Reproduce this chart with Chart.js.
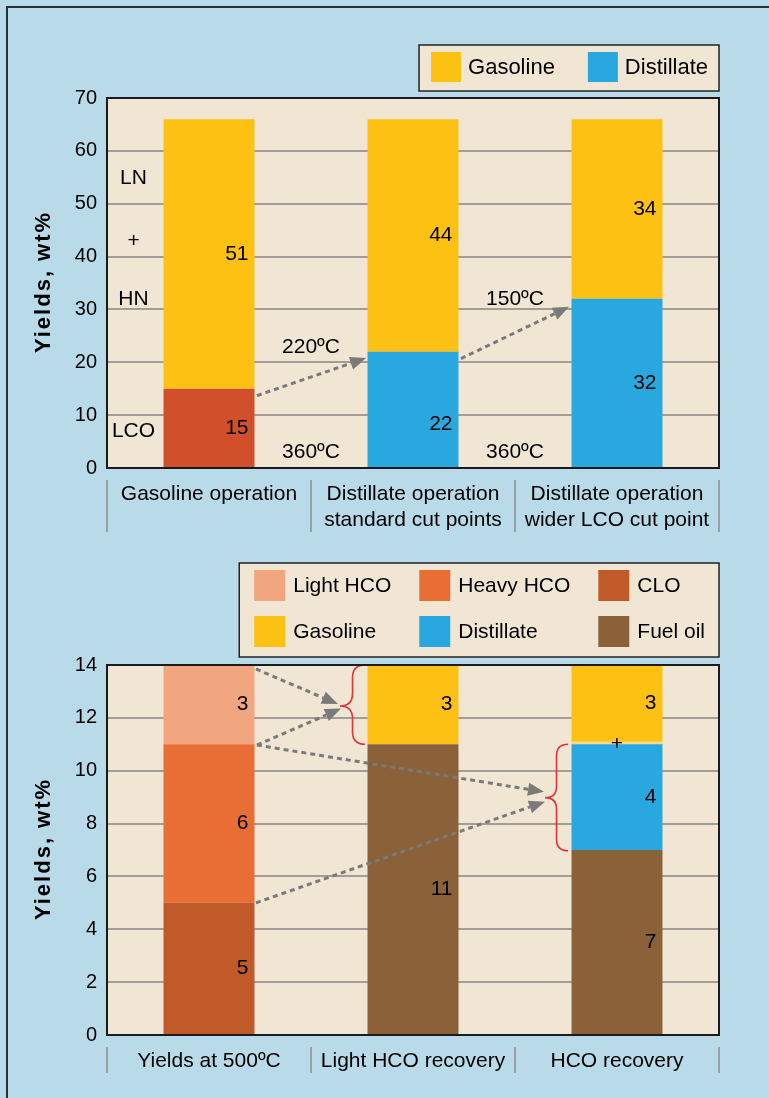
<!DOCTYPE html>
<html>
<head>
<meta charset="utf-8">
<title>FCC yields</title>
<script src="https://cdn.jsdelivr.net/npm/chart.js@4.4.1/dist/chart.umd.min.js"></script>
<style>
  html, body { margin: 0; padding: 0; background: #b9dbe9; }
  body { width: 769px; height: 1098px; position: relative; overflow: hidden; }
  #frame { position: absolute; left: 6px; top: 6px; right: 0; bottom: 0;
           border-left: 2px solid #25323a; border-top: 2px solid #25323a; }
  canvas { position: absolute; left: 0; }
  #cutChart { top: 0; }
  #hcoChart { top: 545px; }
</style>
</head>
<body>
<div id="frame"></div>
<canvas id="cutChart" width="769" height="545"></canvas>
<canvas id="hcoChart" width="769" height="553"></canvas>
<script>
// ---- Cut-point strategies (upper chart) ----
const cutCategories = [
  ['Gasoline operation'],
  ['Distillate operation', 'standard cut points'],
  ['Distillate operation', 'wider LCO cut point']
];
const cutLCO        = [15, 0, 0];
const cutDistillate = [0, 22, 32];
const cutGasoline   = [51, 44, 34];
const cutYTicks     = [0, 10, 20, 30, 40, 50, 60, 70];

// ---- HCO recovery (lower chart) ----
const hcoCategories = ['Yields at 500ºC', 'Light HCO recovery', 'HCO recovery'];
const hcoCLO        = [5, 0, 0];
const hcoHeavyHCO   = [6, 0, 0];
const hcoLightHCO   = [3, 0, 0];
const hcoFuelOil    = [0, 11, 7];
const hcoDistillate = [0, 0, 4];
const hcoExtra      = [0, 0, 0.1];
const hcoGasoline   = [0, 3, 3];
const hcoYTicks     = [0, 2, 4, 6, 8, 10, 12, 14];

// ---- colours ----
const C = {
  gasoline: '#fdc114', distillate: '#29a8e0', lco: '#d1502b',
  lightHCO: '#f2a67f', heavyHCO: '#e86e36', clo: '#c05a28',
  fuelOil: '#8a6139', extra: '#f6da88',
  panel: '#f0e6d3', grid: '#a29e97', ink: '#000000', arrow: '#7a7a7a', brace: '#e8303a'
};
const FONT = '"Liberation Sans", Arial, Helvetica, sans-serif';

// ---- text and arrow overlays, placed in axis units (x: category index, y: wt%) ----
const cutNotes = [
  { text: 'LN',    x: -0.37, y: 54.9 },
  { text: '+',     x: -0.37, y: 43.0 },
  { text: 'HN',    x: -0.37, y: 32.0 },
  { text: 'LCO',   x: -0.37, y: 7.0 },
  { text: '220ºC', x: 0.5,   y: 22.9 },
  { text: '360ºC', x: 0.5,   y: 2.9 },
  { text: '150ºC', x: 1.5,   y: 32.0 },
  { text: '360ºC', x: 1.5,   y: 2.9 }
];
const cutArrows = [
  { from: [0.235, 13.7], to: [0.77, 20.8] },
  { from: [1.235, 20.7], to: [1.765, 30.5] }
];
const hcoArrows = [
  { from: [0.23, 13.85], to: [0.632, 12.52] },
  { from: [0.235, 10.97], to: [0.647, 12.35] },
  { from: [0.235, 10.97], to: [1.642, 9.2] },
  { from: [0.23, 5.0],   to: [1.647, 8.83] }
];
const hcoBraces = [
  { tip: 0.642, end: 0.765, top: 14, bottom: 11, mid: 12.45 },
  { tip: 1.647, end: 1.76,  top: 11, bottom: 6.97, mid: 8.98 }
];

function drawArrow(ctx, x0, y0, x1, y1) {
  const dx = x1 - x0, dy = y1 - y0, len = Math.hypot(dx, dy);
  const ux = dx / len, uy = dy / len, head = 16, half = 6.5;
  const bx = x1 - ux * head, by = y1 - uy * head;
  ctx.save();
  ctx.strokeStyle = C.arrow; ctx.fillStyle = C.arrow;
  ctx.lineWidth = 3; ctx.setLineDash([5, 4]);
  ctx.beginPath(); ctx.moveTo(x0, y0); ctx.lineTo(bx, by); ctx.stroke();
  ctx.setLineDash([]);
  ctx.beginPath();
  ctx.moveTo(x1, y1);
  ctx.lineTo(bx - uy * half, by + ux * half);
  ctx.lineTo(bx + uy * half, by - ux * half);
  ctx.closePath(); ctx.fill();
  ctx.restore();
}

function drawBrace(ctx, xTip, xEnd, yTop, yBot, yMid) {
  const xm = (xTip + xEnd) / 2, r = (xEnd - xTip) / 2;
  ctx.save();
  ctx.strokeStyle = C.brace; ctx.lineWidth = 1.6;
  ctx.beginPath();
  ctx.moveTo(xEnd, yTop);
  ctx.quadraticCurveTo(xm, yTop, xm, yTop + r);
  ctx.lineTo(xm, yMid - r);
  ctx.quadraticCurveTo(xm, yMid, xTip, yMid);
  ctx.quadraticCurveTo(xm, yMid, xm, yMid + r);
  ctx.lineTo(xm, yBot - r);
  ctx.quadraticCurveTo(xm, yBot, xEnd, yBot);
  ctx.stroke();
  ctx.restore();
}

// Panel plugin: plot background, value labels, notes, arrows, braces, frame,
// category separators, rotated axis title and a boxed grid legend.
function makePanel(cfg) {
  return {
    id: 'panel',
    beforeDraw(chart) {
      const { ctx, chartArea: a } = chart;
      ctx.save();
      ctx.fillStyle = C.panel;
      ctx.fillRect(a.left, a.top, a.right - a.left, a.bottom - a.top);
      ctx.restore();
    },
    afterDatasetsDraw(chart) {
      const { ctx, chartArea: a, scales } = chart;
      const xs = scales.x, ys = scales.y;

      // segment values
      ctx.save();
      ctx.fillStyle = C.ink;
      ctx.font = '21px ' + FONT;
      ctx.textBaseline = 'middle';
      chart.data.datasets.forEach((ds, di) => {
        const meta = chart.getDatasetMeta(di);
        meta.data.forEach((bar, i) => {
          const v = ds.data[i];
          if (!v) return;
          const top = Math.max(Math.min(bar.y, bar.base), a.top);
          const bot = Math.max(bar.y, bar.base);
          let y = (top + bot) / 2;
          const o = cfg.labelAt && cfg.labelAt[ds.label] && cfg.labelAt[ds.label][i];
          if (o !== undefined) y = ys.getPixelForValue(o);
          if (ds.labelMode === 'center') {
            ctx.textAlign = 'center';
            ctx.fillText(ds.labelText, bar.x, y + 1);
          } else {
            ctx.textAlign = 'right';
            ctx.fillText(String(v), bar.x + bar.width / 2 - 6, y);
          }
        });
      });

      // free notes
      ctx.textAlign = 'center';
      (cfg.notes || []).forEach(n => {
        ctx.fillText(n.text, xs.getPixelForValue(n.x), ys.getPixelForValue(n.y));
      });
      ctx.restore();

      (cfg.arrows || []).forEach(ar => drawArrow(ctx,
        xs.getPixelForValue(ar.from[0]), ys.getPixelForValue(ar.from[1]),
        xs.getPixelForValue(ar.to[0]), ys.getPixelForValue(ar.to[1])));

      (cfg.braces || []).forEach(b => drawBrace(ctx,
        xs.getPixelForValue(b.tip), xs.getPixelForValue(b.end),
        ys.getPixelForValue(b.top), ys.getPixelForValue(b.bottom), ys.getPixelForValue(b.mid)));

      // plot frame
      ctx.save();
      ctx.strokeStyle = '#1b1b1b'; ctx.lineWidth = 2;
      ctx.strokeRect(a.left, a.top, a.right - a.left, a.bottom - a.top);
      ctx.restore();
    },
    afterDraw(chart) {
      const { ctx, chartArea: a, scales } = chart;
      const xs = scales.x;
      const n = chart.data.labels.length;

      // separators between category labels
      ctx.save();
      ctx.strokeStyle = '#97a0a4'; ctx.lineWidth = 2;
      for (let i = 0; i <= n; i++) {
        const x = Math.round(xs.getPixelForValue(i - 0.5));
        ctx.beginPath();
        ctx.moveTo(x, a.bottom + 12);
        ctx.lineTo(x, a.bottom + 12 + cfg.labelLines * 26);
        ctx.stroke();
      }
      ctx.restore();

      // rotated axis title
      ctx.save();
      ctx.translate(43.5, (a.top + a.bottom) / 2);
      ctx.rotate(-Math.PI / 2);
      ctx.font = 'bold 22px ' + FONT;
      if ('letterSpacing' in ctx) ctx.letterSpacing = '2px';
      ctx.fillStyle = C.ink;
      ctx.textAlign = 'center';
      ctx.textBaseline = 'middle';
      ctx.fillText('Yields, wt%', 1, 0);
      ctx.restore();

      // legend box
      const L = cfg.legend;
      const byLabel = {};
      chart.data.datasets.forEach(ds => { byLabel[ds.label] = ds.backgroundColor; });
      ctx.save();
      ctx.font = L.fontSize + 'px ' + FONT;
      const cols = L.rows[0].length;
      const colW = [];
      for (let c = 0; c < cols; c++) {
        let w = 0;
        L.rows.forEach(r => { if (r[c]) w = Math.max(w, ctx.measureText(r[c]).width); });
        colW.push(w);
      }
      let boxW = L.padL + L.padR;
      colW.forEach((w, c) => { boxW += L.sw + L.gap + w + (c < cols - 1 ? L.colGap : 0); });
      const boxH = L.padT + L.rows.length * L.sw + (L.rows.length - 1) * L.rowGap + L.padB;
      const bx = a.right - boxW, by = a.top - L.above;
      ctx.fillStyle = C.panel;
      ctx.fillRect(bx, by, boxW, boxH);
      ctx.strokeStyle = '#222'; ctx.lineWidth = 1.5;
      ctx.strokeRect(bx, by, boxW, boxH);
      ctx.textBaseline = 'middle'; ctx.textAlign = 'left';
      L.rows.forEach((r, ri) => {
        let x = bx + L.padL;
        const y = by + L.padT + ri * (L.sw + L.rowGap);
        r.forEach((name, c) => {
          ctx.fillStyle = byLabel[name];
          ctx.fillRect(x, y, L.sw, L.sw);
          ctx.fillStyle = C.ink;
          ctx.fillText(name, x + L.sw + L.gap, y + L.sw / 2 + 1);
          x += L.sw + L.gap + colW[c] + L.colGap;
        });
      });
      ctx.restore();
    }
  };
}

function baseOptions(yTicks, yMax, padTop, axisHeight) {
  return {
    responsive: false,
    animation: false,
    events: [],
    layout: { padding: { top: padTop, right: 50, left: 0, bottom: 0 } },
    plugins: { legend: { display: false }, tooltip: { enabled: false } },
    datasets: { bar: { categoryPercentage: 0.446, barPercentage: 1, borderWidth: 0 } },
    scales: {
      x: {
        stacked: true,
        offset: true,
        grid: { display: false },
        border: { display: false },
        ticks: {
          autoSkip: false, maxRotation: 0, padding: 6, color: C.ink,
          font: { family: FONT, size: 21, lineHeight: 1.2 }
        },
        afterFit(scale) { scale.height = axisHeight; }
      },
      y: {
        stacked: true,
        min: 0, max: yMax,
        grid: { color: C.grid, lineWidth: 2, drawTicks: false },
        border: { display: false },
        ticks: { padding: 10, color: C.ink, font: { family: FONT, size: 20 } },
        afterBuildTicks(scale) { scale.ticks = yTicks.map(v => ({ value: v })); },
        afterFit(scale) { scale.width = 107; }
      }
    }
  };
}

new Chart(document.getElementById('cutChart'), {
  type: 'bar',
  data: {
    labels: cutCategories,
    datasets: [
      { label: 'LCO',        data: cutLCO,        backgroundColor: C.lco },
      { label: 'Distillate', data: cutDistillate, backgroundColor: C.distillate },
      { label: 'Gasoline',   data: cutGasoline,   backgroundColor: C.gasoline }
    ]
  },
  options: baseOptions(cutYTicks, 70, 98, 77),
  plugins: [makePanel({
    notes: cutNotes,
    arrows: cutArrows,
    labelAt: { Distillate: { 1: 8.2 } },
    labelLines: 2,
    legend: { rows: [['Gasoline', 'Distillate']], fontSize: 22, padL: 12, padR: 11, padT: 7, padB: 9,
              sw: 30, gap: 7, colGap: 33, rowGap: 0, above: 53 }
  })]
});

new Chart(document.getElementById('hcoChart'), {
  type: 'bar',
  data: {
    labels: hcoCategories,
    datasets: [
      { label: 'CLO',        data: hcoCLO,        backgroundColor: C.clo },
      { label: 'Heavy HCO',  data: hcoHeavyHCO,   backgroundColor: C.heavyHCO },
      { label: 'Light HCO',  data: hcoLightHCO,   backgroundColor: C.lightHCO },
      { label: 'Fuel oil',   data: hcoFuelOil,    backgroundColor: C.fuelOil },
      { label: 'Distillate', data: hcoDistillate, backgroundColor: C.distillate },
      { label: '+',          data: hcoExtra,      backgroundColor: C.extra, labelMode: 'center', labelText: '+' },
      { label: 'Gasoline',   data: hcoGasoline,   backgroundColor: C.gasoline }
    ]
  },
  options: baseOptions(hcoYTicks, 14, 120, 63),
  plugins: [makePanel({
    arrows: hcoArrows,
    braces: hcoBraces,
    labelLines: 1,
    legend: { rows: [['Light HCO', 'Heavy HCO', 'CLO'], ['Gasoline', 'Distillate', 'Fuel oil']], fontSize: 21,
              padL: 15, padR: 14, padT: 7, padB: 10, sw: 31, gap: 8, colGap: 28, rowGap: 15, above: 102 }
  })]
});
</script>
</body>
</html>
